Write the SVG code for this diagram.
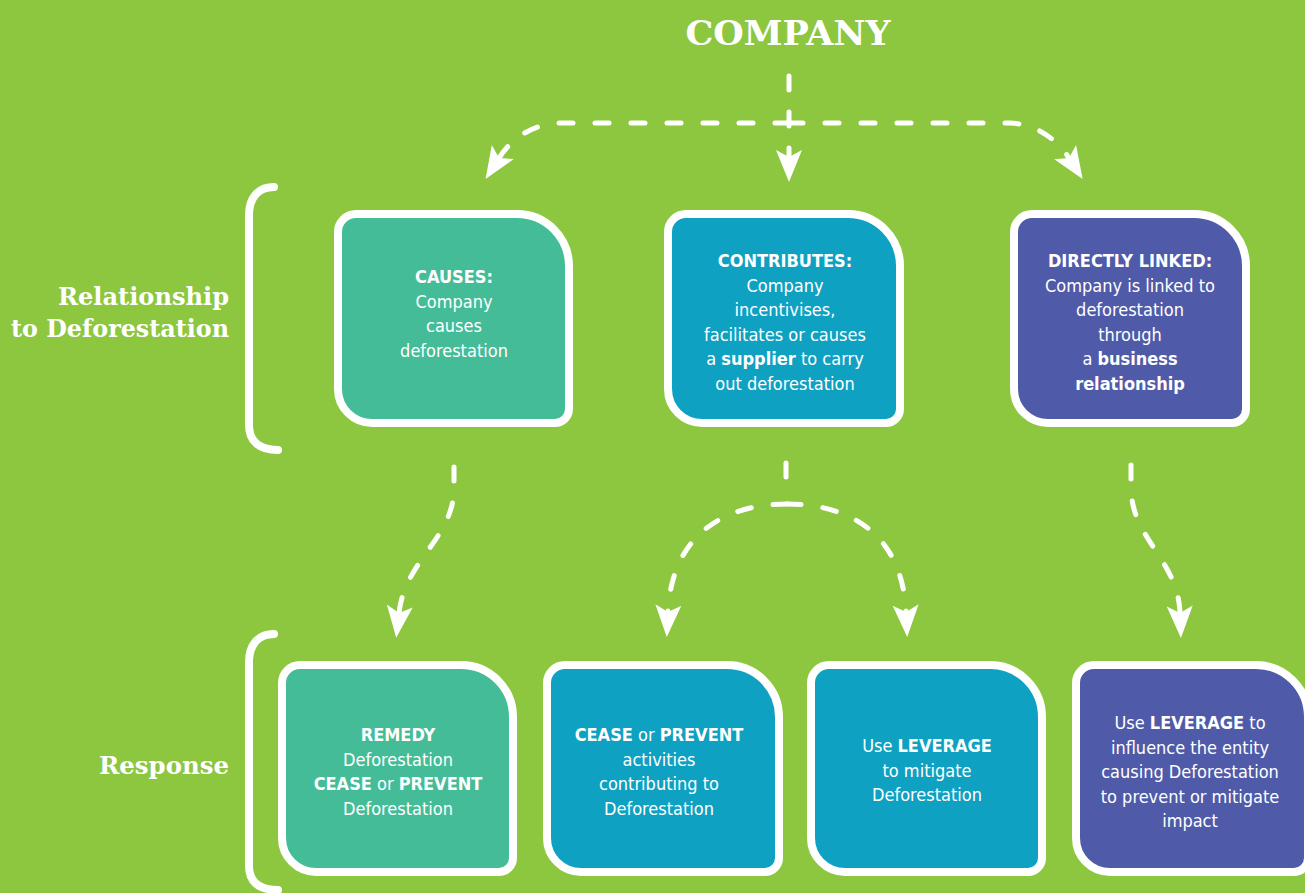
<svg xmlns="http://www.w3.org/2000/svg" width="1305" height="893" viewBox="0 0 1305 893">
<style>
.bg{fill:#8DC63F}
.box{stroke:#fff;stroke-width:8}
.g{fill:#45BC98}.b{fill:#0FA1C2}.p{fill:#4F5BA9}
.t{font-family:"Liberation Sans Narrow","DejaVu Sans Condensed","Roboto",sans-serif;font-size:18px;fill:#fff;text-anchor:middle}
.bold{font-weight:bold}
.h{font-family:"DejaVu Serif","Liberation Serif",serif;font-weight:bold;fill:#fff}
.br{fill:none;stroke:#fff;stroke-width:8;stroke-linecap:round}
.c{fill:none;stroke:#fff;stroke-width:5;stroke-linecap:round;stroke-dasharray:14 22;marker-end:url(#ah)}
.cn{fill:none;stroke:#fff;stroke-width:5;stroke-linecap:round;stroke-dasharray:14 22}
</style>
<defs>
<marker id="ah" markerUnits="userSpaceOnUse" markerWidth="40" markerHeight="40" viewBox="-10 -15 40 30" refX="0" refY="0" orient="auto" overflow="visible">
<path d="M-7,-13 L25,0 L-7,13 L0,0 Z" fill="#fff"/>
</marker>
</defs>
<rect class="bg" x="0" y="0" width="1305" height="893"/>

<g id="labels">
<text class="h" x="788" y="45" font-size="34" text-anchor="middle" textLength="205" lengthAdjust="spacingAndGlyphs">COMPANY</text>
<text class="h" x="229" y="305" font-size="24" text-anchor="end" textLength="171" lengthAdjust="spacingAndGlyphs">Relationship</text>
<text class="h" x="229" y="337" font-size="24" text-anchor="end" textLength="218" lengthAdjust="spacingAndGlyphs">to Deforestation</text>
<text class="h" x="229" y="774" font-size="24" text-anchor="end" textLength="130" lengthAdjust="spacingAndGlyphs">Response</text>
</g>

<g id="brackets">
<path class="br" d="M274,187 C258,187 249,198 249,215 V425 C249,440 258,450 278,450"/>
<path class="br" d="M274,634 C258,634 249,645 249,662 V866 C249,881 258,890 278,890"/>
</g>

<g id="connectors">
<path class="c" d="M789,76 L789,157"/>
<path class="c" d="M789,123 L560,123 C535,124 513,136 499,158"/>
<path class="c" d="M789,123 L1010,123 C1035,124 1056,138 1069,158"/>
<path class="c" d="M454,467 L454,490 C452,540 405,560 399,613"/>
<path class="cn" d="M786,463 L786,495"/>
<path class="c" d="M787,504 C730,504 672,530 668,612"/>
<path class="c" d="M787,504 C845,504 902,530 906,612"/>
<path class="c" d="M1131,465 L1131,490 C1133,540 1178,560 1180,613"/>
</g>

<g id="causes">
<path class="box g" d="M356,214 H517 A52,52 0 0 1 569,266 V409 A14,14 0 0 1 555,423 H372 A34,34 0 0 1 338,389 V232 A18,18 0 0 1 356,214 Z"/>
<text class="t"><tspan class="bold" x="454" y="283">CAUSES:</tspan><tspan x="454" y="308">Company</tspan><tspan x="454" y="332">causes</tspan><tspan x="454" y="357">deforestation</tspan></text>
</g>

<g id="contributes">
<path class="box b" d="M686,214 H848 A52,52 0 0 1 900,266 V409 A14,14 0 0 1 886,423 H702 A34,34 0 0 1 668,389 V232 A18,18 0 0 1 686,214 Z"/>
<text class="t"><tspan class="bold" x="785" y="267">CONTRIBUTES:</tspan><tspan x="785" y="292">Company</tspan><tspan x="785" y="316">incentivises,</tspan><tspan x="785" y="341">facilitates or causes</tspan><tspan x="785" y="365">a <tspan class="bold">supplier</tspan> to carry</tspan><tspan x="785" y="390">out deforestation</tspan></text>
</g>

<g id="linked">
<path class="box p" d="M1032,214 H1194 A52,52 0 0 1 1246,266 V409 A14,14 0 0 1 1232,423 H1048 A34,34 0 0 1 1014,389 V232 A18,18 0 0 1 1032,214 Z"/>
<text class="t"><tspan class="bold" x="1130" y="267">DIRECTLY LINKED:</tspan><tspan x="1130" y="292">Company is linked to</tspan><tspan x="1130" y="316">deforestation</tspan><tspan x="1130" y="341">through</tspan><tspan x="1130" y="365">a <tspan class="bold">business</tspan></tspan><tspan class="bold" x="1130" y="390">relationship</tspan></text>
</g>

<g id="remedy">
<path class="box g" d="M300,665 H461 A52,52 0 0 1 513,717 V858 A14,14 0 0 1 499,872 H316 A34,34 0 0 1 282,838 V683 A18,18 0 0 1 300,665 Z"/>
<text class="t"><tspan class="bold" x="398" y="741">REMEDY</tspan><tspan x="398" y="766">Deforestation</tspan><tspan x="398" y="790"><tspan class="bold">CEASE</tspan> or <tspan class="bold">PREVENT</tspan></tspan><tspan x="398" y="815">Deforestation</tspan></text>
</g>

<g id="cease">
<path class="box b" d="M565,665 H727 A52,52 0 0 1 779,717 V858 A14,14 0 0 1 765,872 H581 A34,34 0 0 1 547,838 V683 A18,18 0 0 1 565,665 Z"/>
<text class="t"><tspan x="659" y="741"><tspan class="bold">CEASE</tspan> or <tspan class="bold">PREVENT</tspan></tspan><tspan x="659" y="766">activities</tspan><tspan x="659" y="790">contributing to</tspan><tspan x="659" y="815">Deforestation</tspan></text>
</g>

<g id="leverage">
<path class="box b" d="M829,665 H990 A52,52 0 0 1 1042,717 V858 A14,14 0 0 1 1028,872 H845 A34,34 0 0 1 811,838 V683 A18,18 0 0 1 829,665 Z"/>
<text class="t"><tspan x="927" y="752">Use <tspan class="bold">LEVERAGE</tspan></tspan><tspan x="927" y="777">to mitigate</tspan><tspan x="927" y="801">Deforestation</tspan></text>
</g>

<g id="influence">
<path class="box p" d="M1094,665 H1256 A52,52 0 0 1 1308,717 V858 A14,14 0 0 1 1294,872 H1110 A34,34 0 0 1 1076,838 V683 A18,18 0 0 1 1094,665 Z"/>
<text class="t"><tspan x="1190" y="729">Use <tspan class="bold">LEVERAGE</tspan> to</tspan><tspan x="1190" y="754">influence the entity</tspan><tspan x="1190" y="778">causing Deforestation</tspan><tspan x="1190" y="803">to prevent or mitigate</tspan><tspan x="1190" y="827">impact</tspan></text>
</g>
</svg>
